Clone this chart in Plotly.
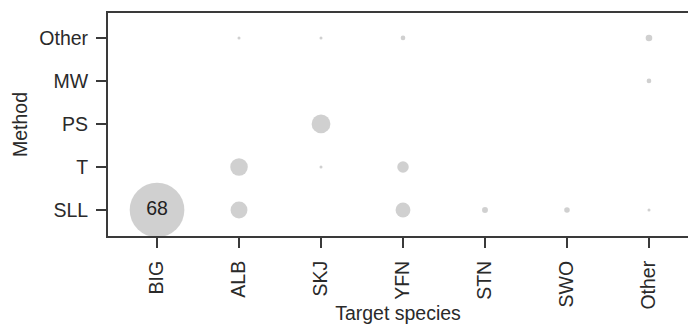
import plotly.graph_objects as go

species = ["BIG", "ALB", "SKJ", "YFN", "STN", "SWO", "Other"]
methods = ["SLL", "T", "PS", "MW", "Other"]

# observations: (species, method, value %)
obs_species = ["BIG", "ALB", "ALB", "ALB", "SKJ", "SKJ", "SKJ", "YFN", "YFN", "YFN",
               "STN", "SWO", "Other", "Other", "Other"]
obs_method = ["SLL", "SLL", "T", "Other", "PS", "T", "Other", "SLL", "T", "Other",
              "SLL", "SLL", "SLL", "MW", "Other"]
obs_value = [68, 6.5, 7, 0.1, 8, 0.1, 0.2, 5, 3, 0.5,
             0.8, 0.7, 0.2, 0.5, 1.0]

labels = [str(int(v)) if v >= 10 else "" for v in obs_value]

FONT = "Liberation Sans, Arial, Helvetica, sans-serif"
AX = "#3a3a3a"
FS = 19.5

fig = go.Figure(go.Scatter(
    x=obs_species, y=obs_method, mode="markers+text",
    text=labels, textposition="middle center",
    textfont=dict(family=FONT, size=FS, color="#222"),
    marker=dict(size=obs_value, sizemode="area", sizeref=1.81 * 68 / 52 ** 2,
                sizemin=1.5, color="#bcbcbc", line=dict(width=0)),
    cliponaxis=False, hoverinfo="skip",
))

fig.update_layout(
    width=688, height=324,
    margin=dict(l=108, r=0, t=13, b=88),
    paper_bgcolor="white", plot_bgcolor="white",
    showlegend=False,
    font=dict(family=FONT, size=FS, color="#333"),
)
fig.update_xaxes(
    type="category", categoryorder="array", categoryarray=species,
    range=[-0.598, 6.476], tickangle=-90,
    showgrid=False, zeroline=False,
    showline=True, linecolor=AX, linewidth=2, mirror=True,
    ticks="outside", ticklen=10, tickwidth=2, tickcolor=AX,
    ticklabelstandoff=5,
    tickfont=dict(size=FS, color="#2a2a2a"),
    title=dict(text="Target species", font=dict(size=FS, color="#2a2a2a"), standoff=0),
)
fig.update_yaxes(
    type="category", categoryorder="array", categoryarray=methods,
    range=[-0.605, 4.58],
    showgrid=False, zeroline=False,
    showline=True, linecolor=AX, linewidth=2,
    ticks="outside", ticklen=10, tickwidth=2, tickcolor=AX,
    ticklabelstandoff=4,
    tickfont=dict(size=FS, color="#2a2a2a"),
    title=dict(text="Method", font=dict(size=FS, color="#2a2a2a"), standoff=6),
)

fig.write_html("out.html")
